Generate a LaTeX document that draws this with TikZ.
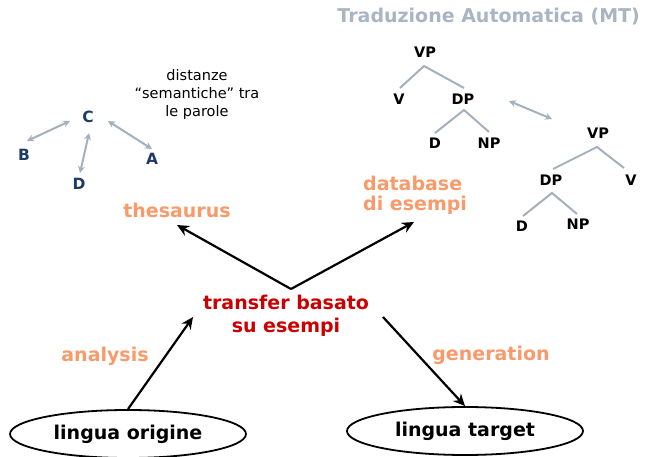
\documentclass[tikz,border=0pt]{standalone}
\usepackage{fontspec}
\setmainfont{DejaVu Sans}
\usetikzlibrary{arrows.meta,shapes.geometric}
\definecolor{orng}{HTML}{F89A6A}
\definecolor{redt}{HTML}{CC0000}
\definecolor{navy}{HTML}{1F3A68}
\definecolor{slate}{HTML}{A3B0BE}
\definecolor{titlegray}{HTML}{A9B5C3}
\tikzset{
  every node/.style={inner sep=1pt},
  orangelbl/.style={text=orng,font=\bfseries\fontsize{19}{20}\selectfont,align=left},
  letter/.style={text=navy,font=\bfseries\fontsize{15.5}{16}\selectfont},
  cat/.style={text=black,font=\bfseries\fontsize{14.5}{16}\selectfont},
  branch/.style={slate,line width=2pt},
  relarrow/.style={slate,line width=2pt,{Stealth[length=7pt,width=7pt]}-{Stealth[length=7pt,width=7pt]}},
  flow/.style={black,line width=2.2pt,-{Stealth[length=12pt,width=11pt,inset=4pt]}},
  lang/.style={draw,ellipse,line width=1.8pt,minimum width=236pt,minimum height=48pt,font=\bfseries\fontsize{19}{20}\selectfont}
}
\begin{document}
\begin{tikzpicture}[x=1pt,y=-1pt]
\useasboundingbox (0,0) rectangle (646,457);

% title
\node[anchor=east,text=titlegray,font=\bfseries\fontsize{19}{20}\selectfont] (title) at (641,17) {Traduzione Automatica (MT)};

% semantic distances
\node[align=center,font=\fontsize{14.5}{18}\selectfont] (dist) at (197,95) {distanze\\“semantiche” tra\\le parole};
\node[letter] (C) at (88,117) {C};
\node[letter] (B) at (24,155) {B};
\node[letter] (D) at (79,184) {D};
\node[letter] (A) at (152,159) {A};
\coordinate (cb1) at (70,121); \coordinate (cb2) at (27,141);
\coordinate (cd1) at (89,133); \coordinate (cd2) at (80,173);
\coordinate (ca1) at (108,121); \coordinate (ca2) at (152,149);
\draw[relarrow] (cb1) -- (cb2);
\draw[relarrow] (cd1) -- (cd2);
\draw[relarrow] (ca1) -- (ca2);

% first tree
\node[cat] (vp1) at (425,52) {VP};
\node[cat] (v1) at (399,99) {V};
\node[cat] (dp1) at (463,99) {DP};
\node[cat] (d1) at (435,143) {D};
\node[cat] (np1) at (489,143) {NP};
\coordinate (t1a) at (424,66);
\coordinate (t1b) at (464,110);
\draw[branch] (400,88) -- (t1a) -- (464,88);
\draw[branch] (435,133) -- (t1b) -- (489,132);

% correspondence
\coordinate (m1) at (509,101); \coordinate (m2) at (552,119);
\draw[relarrow] (m1) -- (m2);

% second tree
\node[cat] (vp2) at (598,133) {VP};
\node[cat] (dp2) at (551,180) {DP};
\node[cat] (v2) at (631,180) {V};
\node[cat] (d2) at (522,226) {D};
\node[cat] (np2) at (578,224) {NP};
\coordinate (t2a) at (597,147);
\coordinate (t2b) at (552,193);
\draw[branch] (553,169) -- (t2a) -- (624,168);
\draw[branch] (523,216) -- (t2b) -- (577,214);

% resources
\node[orangelbl] (thes) at (177,210) {thesaurus};
\node[orangelbl,anchor=west,font=\bfseries\fontsize{19}{20}\selectfont] (db) at (362,195) {database\\di esempi};

% central transfer
\node[text=redt,align=center,font=\bfseries\fontsize{19}{23}\selectfont] (transfer) at (286,316) {transfer basato\\su esempi};
\coordinate (hub) at (291,289);
\coordinate (thesend) at (177,225);
\coordinate (dbend) at (414,222);
\draw[flow] (hub) -- (thesend);
\draw[flow] (hub) -- (dbend);

% languages
\node[lang] (src) at (128,434) {lingua origine};
\node[lang] (tgt) at (465,431) {lingua target};
\coordinate (inend) at (193,317);
\coordinate (outstart) at (383,317);
\draw[flow] (src.north) -- (inend);
\draw[flow] (outstart) -- (tgt.north);

\node[orangelbl] (ana) at (105,356) {analysis};
\node[orangelbl] (gen) at (491,355) {generation};
\end{tikzpicture}
\end{document}
